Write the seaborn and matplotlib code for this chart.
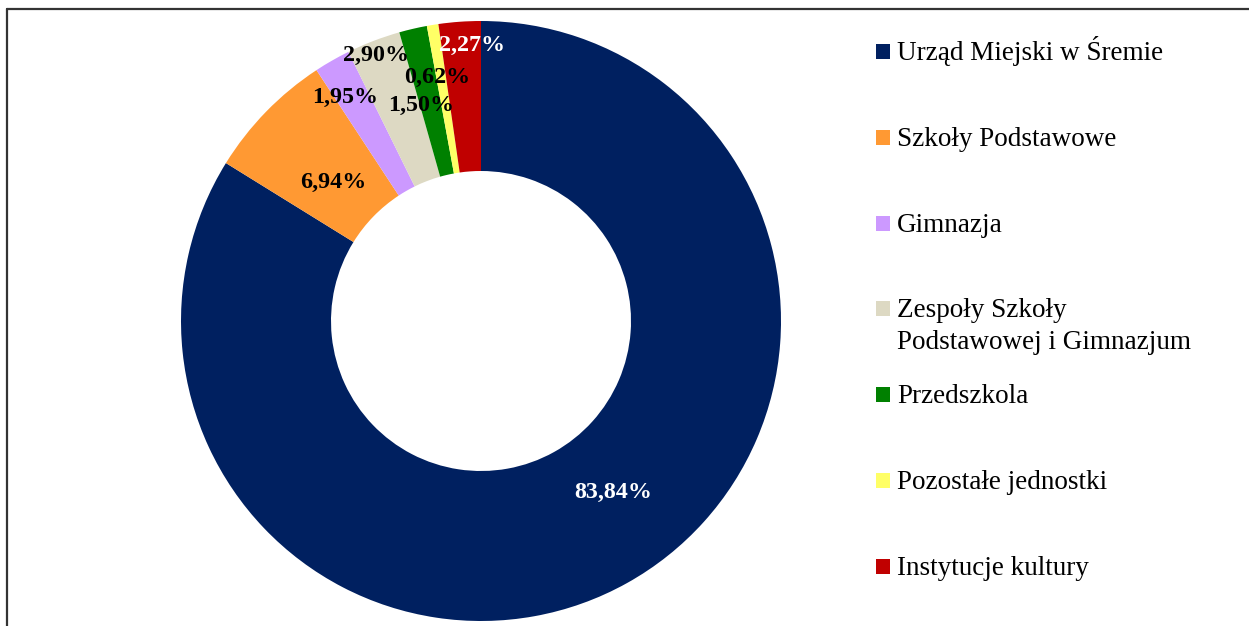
import matplotlib
matplotlib.use("Agg")
import matplotlib.pyplot as plt
import seaborn as sns
from matplotlib.patches import Rectangle
from matplotlib.lines import Line2D

categories = ["Urząd Miejski w Śremie", "Szkoły Podstawowe", "Gimnazja",
              "Zespoły Szkoły\nPodstawowej i Gimnazjum", "Przedszkola",
              "Pozostałe jednostki", "Instytucje kultury"]
values = [83.84, 6.94, 1.95, 2.90, 1.50, 0.62, 2.27]
value_labels = ["83,84%", "6,94%", "1,95%", "2,90%", "1,50%", "0,62%", "2,27%"]

sns.set_style("white")
plt.rcParams['font.family'] = ['Liberation Serif', 'DejaVu Serif']

colors = ["#002060", "#FF9933", "#CC99FF", "#DDD9C3", "#008000", "#FFFF66", "#C00000"]
label_colors = ["white", "black", "black", "black", "black", "black", "white"]
# label anchor positions (pie radius = 1, centre = 0,0)
label_pos = [(0.442, -0.571), (-0.492, 0.462), (-0.452, 0.744), (-0.349, 0.884),
             (-0.199, 0.718), (-0.146, 0.811), (-0.030, 0.917)]

W, H = 1249, 626
fig = plt.figure(figsize=(W / 100, H / 100), dpi=100)
fig.patch.set_facecolor("white")

cx, cy, R = 481, 321, 300
ax = fig.add_axes([(cx - R) / W, (H - cy - R) / H, 2 * R / W, 2 * R / H])
ax.pie(values, colors=colors, startangle=90, counterclock=False,
       wedgeprops=dict(width=0.5, linewidth=0), radius=1)
ax.set_xlim(-1, 1)
ax.set_ylim(-1, 1)
ax.set_aspect("equal")
ax.axis("off")

for (x, y), txt, c in zip(label_pos, value_labels, label_colors):
    ax.text(x, y, txt, ha="center", va="center", fontsize=17.3,
            fontweight="bold", color=c)

# legend drawn manually
baselines = [60, 146, 232, 317, 403, 489, 575]
line_gap = 32
for lab, col, b in zip(categories, colors, baselines):
    fig.patches.append(Rectangle((876 / W, (H - b + 1) / H), 14 / W, 15 / H,
                                 transform=fig.transFigure, facecolor=col,
                                 edgecolor="none"))
    for i, line in enumerate(lab.split("\n")):
        fig.text(897 / W, (H - b - i * line_gap) / H, line, ha="left", va="baseline",
                 fontsize=19.5, color="black")

# chart frame
fig.lines.append(Line2D([7 / W, 7 / W], [0, (H - 9) / H], transform=fig.transFigure,
                        color="#333333", lw=1.6))
fig.lines.append(Line2D([7 / W, 1], [(H - 9) / H, (H - 9) / H], transform=fig.transFigure,
                        color="#333333", lw=1.6))

fig.savefig("out.png", dpi=100, facecolor="white")
